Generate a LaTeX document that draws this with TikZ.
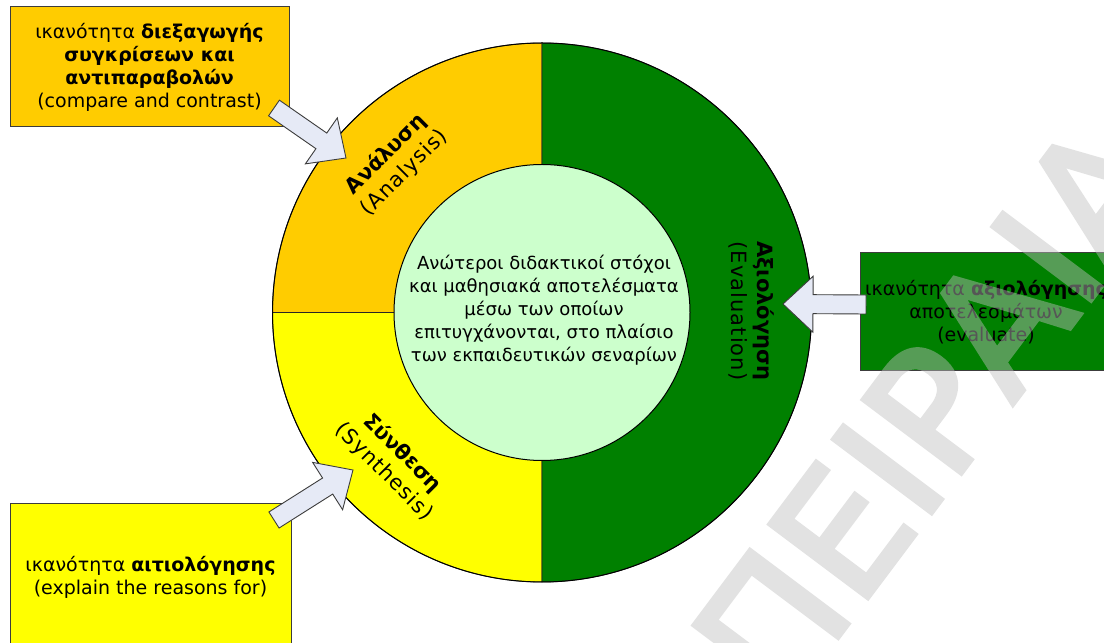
\documentclass[tikz,border=0pt]{standalone}
\usepackage{fontspec}
\setmainfont{DejaVu Sans}
\newfontfamily\ringfont[LetterSpace=5]{DejaVu Sans}
\newfontfamily\wmfont[FakeBold=3]{DejaVu Sans}
\usetikzlibrary{calc}
\definecolor{amber}{HTML}{FFCC00}
\definecolor{lemon}{HTML}{FFFF00}
\definecolor{leaf}{HTML}{008000}
\definecolor{mint}{HTML}{CCFFCC}
\definecolor{lilac}{HTML}{E6EAF6}
\definecolor{edge}{HTML}{3C3C3C}
\tikzset{
  infobox/.style={draw=edge,line width=1pt,inner sep=0pt,align=center,
    font=\fontsize{19}{23}\selectfont},
  sector/.style={draw=black!85,line width=0.8pt},
  ringlabel/.style={align=center,font=\fontsize{21}{26}\selectfont,inner sep=0pt},
  blockarrow/.style={fill=lilac,draw=edge,line width=0.9pt,line join=miter},
}
% block arrow from a tail coordinate to a tip coordinate
\newcommand\blockarrow[2]{%
  \path let \p1=($(#2)-(#1)$), \n1={atan2(\y1,\x1)}, \n2={veclen(\x1,\y1)} in
    \pgfextra{\xdef\arrang{\n1}\xdef\arrlen{\n2}};
  \begin{scope}[shift={(#1)},rotate=\arrang]
    \draw[blockarrow] (0,-9.5) -- (\arrlen-30,-9.5) -- (\arrlen-30,-28) -- (\arrlen,0)
      -- (\arrlen-30,28) -- (\arrlen-30,9.5) -- (0,9.5) -- cycle;
  \end{scope}}
\begin{document}
\begin{tikzpicture}[x=1pt,y=1pt]
\useasboundingbox (0,0) rectangle (1104,643);
\fill[white] (0,0) rectangle (1104,643);

% ring of three thinking levels
\coordinate (c) at (542,330.5);
\filldraw[sector,fill=amber] (c) -- ++(90:269.5) arc[start angle=90,end angle=180,radius=269.5] -- cycle;
\filldraw[sector,fill=lemon] (c) -- ++(180:269.5) arc[start angle=180,end angle=270,radius=269.5] -- cycle;
\filldraw[sector,fill=leaf] (c) -- ++(-90:269.5) arc[start angle=-90,end angle=90,radius=269.5] -- cycle;
\draw[black,line width=1pt] (c) circle[radius=269.5];

% core
\node[circle,fill=mint,draw=black,line width=1pt,minimum size=296pt,inner sep=0pt] (core) at (c) {};
\node[align=center,font=\fontsize{18}{23}\selectfont,inner sep=0pt] (coretext) at (544,333)
  {Ανώτεροι διδακτικοί στόχοι\\και μαθησιακά αποτελέσματα\\μέσω των οποίων\\επιτυγχάνονται, στο πλαίσιο\\των εκπαιδευτικών σεναρίων};

% ring labels
\node[ringlabel,rotate=45] (analysis) at (395,479.5) {\textbf{Ανάλυση}\\{\ringfont(Analysis)}};
\node[ringlabel,rotate=-45] (synthesis) at (393.3,180.5) {\textbf{Σύνθεση}\\{\ringfont(Synthesis)}};
\node[ringlabel,rotate=-90] (evaluation) at (752,332) {\textbf{Αξιολόγηση}\\{\ringfont(Evaluation)}};

% skill boxes
\node[infobox,fill=amber,minimum width=279pt,minimum height=120pt] (compare) at (149.5,576)
  {ικανότητα \textbf{διεξαγωγής}\\\textbf{συγκρίσεων και}\\\textbf{αντιπαραβολών}\\(compare and contrast)};
\node[infobox,fill=leaf,minimum width=252pt,minimum height=118pt] (evaluate) at (986,331)
  {ικανότητα \textbf{αξιολόγησης}\\αποτελεσμάτων\\(evaluate)};
\node[infobox,fill=lemon,minimum width=281pt,minimum height=146pt] (explain) at (150.5,66)
  {ικανότητα \textbf{αιτιολόγησης}\\(explain the reasons for)};

% arrows from the boxes into the ring
\coordinate (t1) at (274,535); \coordinate (p1) at (346,485);
\coordinate (t2) at (866,338.5); \coordinate (p2) at (783,339);
\coordinate (t3) at (274,123); \coordinate (p3) at (353,173);
\blockarrow{t1}{p1}
\blockarrow{t2}{p2}
\blockarrow{t3}{p3}

% watermark, faded as one group
\begin{scope}[transparency group,opacity=0.45]
\node[font=\wmfont\fontsize{168}{168}\selectfont,text=black!25,
  rotate=53.13,anchor=base west,inner sep=0pt] (stamp) at (782,-69) {ΠΕΙΡΑΙΑ};
\end{scope}
\end{tikzpicture}
\end{document}
